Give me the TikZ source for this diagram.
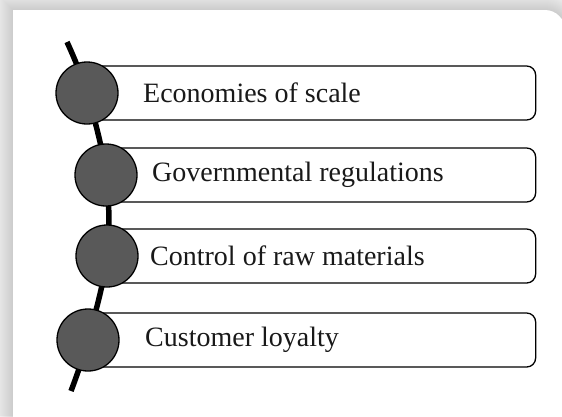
\documentclass[tikz,border=0pt]{standalone}
\usepackage{fontspec}
\setmainfont{Liberation Serif}
\begin{document}
\begin{tikzpicture}[x=1pt,y=-1pt,
  spine/.style={line width=5.5pt, black},
  itembox/.style={draw=black, fill=white, line width=1.3pt, rounded corners=9pt,
    minimum height=54pt, inner sep=0pt, anchor=west},
  dot/.style={circle, draw=black, fill=black!65, line width=1.3pt,
    minimum size=62pt, inner sep=0pt},
  label/.style={anchor=west, inner sep=0pt, font=\fontsize{28}{33}\selectfont, text=black!90}]
\useasboundingbox (0,0) rectangle (562,416);
\fill[black!4] (0,0) rectangle (562,416);
% shadow
\foreach \i in {1,...,20}{
  \pgfmathsetmacro{\r}{20+\i}
  \pgfmathsetmacro{\k}{0.552*\r}
  \fill[black, opacity=0.0095] (13-\i,440) -- (13-\i,10-\i) -- (545,10-\i)
    .. controls (545+\k,10-\i) and (565+\i,30-\k) .. (565+\i,30) -- (565+\i,440) -- cycle;
}
\fill[white] (13,440) -- (13,10) -- (545,10)
  .. controls (556,10) and (565,19) .. (565,30) -- (565,440) -- cycle;
% positions
\coordinate (s) at (67,42);
\coordinate (p1) at (87,93);
\coordinate (p2) at (106,175);
\coordinate (p3) at (107,256);
\coordinate (p4) at (88,340);
\coordinate (e) at (71,391);
\draw[spine] plot[smooth, tension=0.6] coordinates {(s) (p1) (p2) (p3) (p4) (e)};
% boxes
\node[itembox, minimum width=448pt] (b1) at (p1) {};
\node[itembox, minimum width=429pt] (b2) at (p2) {};
\node[itembox, minimum width=428pt] (b3) at (p3) {};
\node[itembox, minimum width=447pt] (b4) at (p4) {};
% circles
\node[dot] (k1) at (p1) {};
\node[dot] (k2) at (p2) {};
\node[dot] (k3) at (p3) {};
\node[dot] (k4) at (p4) {};
% labels
\node[label] (t1) at (143,93) {Economies of scale};
\node[label] (t2) at (152,175) {Governmental regulations};
\node[label] (t3) at (150,256) {Control of raw materials};
\node[label] (t4) at (145,340) {Customer loyalty};
\end{tikzpicture}
\end{document}
